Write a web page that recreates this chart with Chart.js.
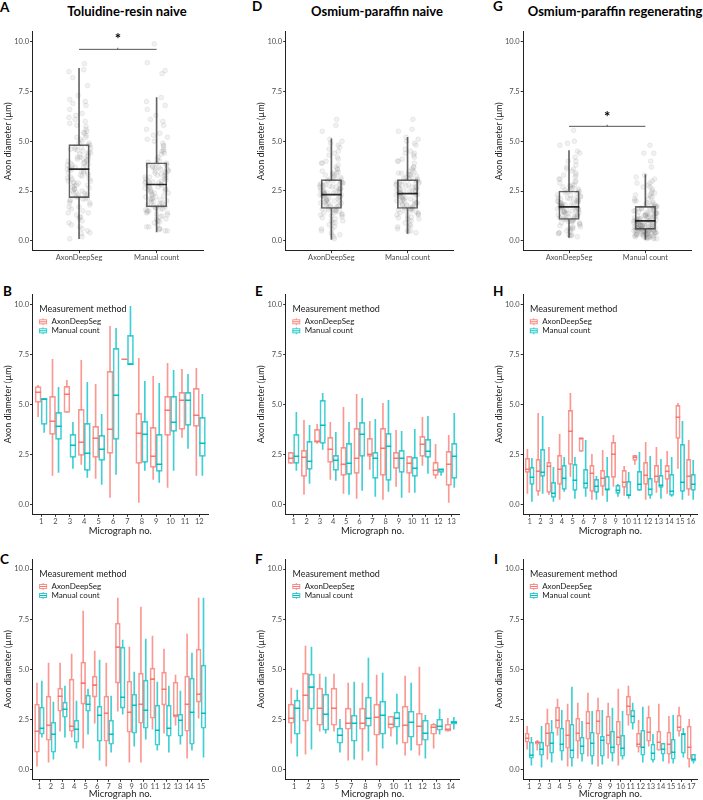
<!DOCTYPE html>
<html lang="en">
<head>
<meta charset="UTF-8">
<script src="https://cdn.jsdelivr.net/npm/chart.js"></script>
<title>Axon diameter - AxonDeepSeg vs manual count</title>
<style>
  body { margin: 0; background: #fff; font-family: Lato, sans-serif; }
  #fig { position: relative; width: 703px; height: 800px; overflow: hidden; }
  #fig canvas { position: absolute; }
  .letter { position: absolute; font-weight: bold; font-size: 13.5px; line-height: 1; color: #000; }
  .ptitle { position: absolute; font-weight: bold; font-size: 13px; line-height: 1; color: #000; transform: translateX(-50%); white-space: nowrap; }
</style>
</head>
<body>
<div id="fig">
  <div class="letter" style="left:0px;top:1px">A</div>
  <div class="letter" style="left:252px;top:0px">D</div>
  <div class="letter" style="left:493px;top:0px">G</div>
  <div class="letter" style="left:3px;top:285px">B</div>
  <div class="letter" style="left:255px;top:285px">E</div>
  <div class="letter" style="left:493px;top:285px">H</div>
  <div class="letter" style="left:0px;top:553px">C</div>
  <div class="letter" style="left:255px;top:553px">F</div>
  <div class="letter" style="left:494px;top:553px">I</div>
  <div class="ptitle" style="left:127px;top:5px">Toluidine-resin naive</div>
  <div class="ptitle" style="left:377px;top:5px">Osmium-paraffin naive</div>
  <div class="ptitle" style="left:615px;top:5px">Osmium-paraffin regenerating</div>
</div>
<script>
var groups = ['AxonDeepSeg', 'Manual count'];
var yTicks = [0, 2.5, 5, 7.5, 10];
var red = '248,118,109';
var teal = '0,191,196';

// top row: individual axon diameters (um)
var aAds = [3.6,2.1,4.9,1.3,5.6,3.0,4.2,0.5,2.7,6.4,3.9,1.8,4.6,2.4,7.3,3.3,0.9,5.1,4.0,2.9,8.6,1.6,3.5,4.4,2.2,6.0,3.8,1.1,4.8,2.6,5.3,3.1,0.2,4.1,7.8,2.0,3.7,5.9,1.5,4.5,2.8,6.8,3.4,0.7,4.3,2.5,5.0,3.2,1.9,4.7,8.9,2.3,3.85,6.2,1.2,4.05,2.95,5.45,3.55,0.35,4.65,2.45,7.0,3.15,1.7,4.25,2.75,5.75,3.65,1.0,4.55,2.15,6.6,3.45,0.1,4.15,2.65,5.2,3.75,1.4,4.35,2.35,8.2,3.25,2.05,4.8,6.1,3.95,
  2.9,4.4,1.7,3.3,5.5,2.4,3.9,0.8,4.7,3.0,6.3,2.1,3.6,4.9,1.4,2.6,5.2,3.8,0.6,4.2,2.8,7.1,3.5,1.9,4.5,3.1,5.8,2.3,4.0,1.2,3.4,6.9,2.5,4.6,0.4,3.7,5.4,2.2,4.1,8.5];
var aMan = [2.8,1.6,3.9,0.9,4.5,2.2,3.3,0.5,2.5,5.4,3.0,1.3,3.7,1.9,6.3,2.6,0.7,4.2,3.1,2.0,7.2,1.5,2.9,3.5,1.75,4.9,3.2,1.1,3.85,2.3,4.6,2.7,0.6,3.4,6.8,1.8,2.85,5.1,1.2,3.6,2.4,5.8,2.95,0.8,3.45,2.1,4.0,2.55,1.4,3.75,8.4,1.65,3.05,5.6,1.0,3.25,2.45,4.35,2.75,0.55,3.55,1.95,6.0,2.65,1.35,3.15,2.35,4.75,2.9,0.95,3.65,1.7,8.95,3.35,1.45,2.05,3.8,9.9,2.25,1.55,4.1,8.55,2.6,1.85,3.95,5.2,2.15,1.25,
  2.2,3.3,1.4,2.7,4.4,1.9,3.0,0.7,3.7,2.4,5.3,1.6,2.9,3.9,1.1,2.1,4.8,3.2,0.6,3.5,2.5,6.6,2.8,1.5,3.6,2.0,5.0,1.8,3.1,1.0,2.6,6.1,1.75,3.8,0.5,2.95,4.5,1.65,3.4,7.0];
var dAds = [2.3,1.5,3.1,0.8,3.8,1.9,2.7,0.3,2.1,4.4,2.5,1.2,3.0,1.7,4.9,2.2,0.5,3.4,2.6,1.8,5.8,1.4,2.4,2.9,1.65,3.6,2.8,1.0,3.2,2.0,4.1,2.35,0.1,2.75,4.7,1.6,2.45,3.5,1.1,2.95,2.15,4.5,2.55,0.6,2.85,1.95,3.3,2.25,1.35,3.05,6.1,1.75,2.65,3.9,0.9,2.5,1.85,3.7,2.4,0.2,2.9,1.55,4.2,2.3,1.25,2.6,2.05,3.45,2.2,0.7,5.1,1.45,5.5,2.7,1.15,3.15,1.9,4.6,2.1,1.3,3.35,2.0,2.8,
  2.0,2.8,1.3,2.4,3.4,1.7,2.6,0.6,3.0,2.2,4.0,1.5,2.5,3.2,1.0,1.9,3.6,2.7,0.4,2.9,2.1,4.8,2.35,1.4,3.1,1.8,3.9,1.6,2.55,0.9,2.3,4.3,1.75,2.85,0.3,2.45,3.3,1.55,2.75,5.0];
var dMan = [2.4,1.6,3.1,0.9,3.9,2.0,2.8,0.4,2.2,4.5,2.6,1.3,3.0,1.7,5.0,2.3,0.6,3.5,2.7,1.8,5.6,1.4,2.5,2.95,1.65,3.7,2.85,1.1,3.25,2.05,4.2,2.35,0.5,2.75,4.8,1.55,2.45,3.4,1.2,3.05,2.15,4.4,2.55,0.7,2.9,1.95,3.3,2.25,1.35,3.15,6.1,1.75,2.65,4.0,1.0,2.5,1.85,3.6,2.4,0.8,2.9,1.5,4.3,2.3,1.25,2.6,2.1,3.45,2.2,0.75,5.2,1.45,5.5,2.7,1.15,3.2,1.9,4.6,2.0,1.3,3.35,1.9,2.8,
  2.1,2.9,1.4,2.5,3.5,1.8,2.7,0.7,3.1,2.3,4.1,1.6,2.6,3.3,1.1,2.0,3.7,2.8,0.5,3.0,2.2,4.9,2.4,1.5,3.2,1.9,4.0,1.7,2.65,1.0,2.35,4.4,1.8,2.95,0.45,2.5,3.4,1.6,2.85,5.1];
var gAds = [1.7,1.0,2.5,0.5,3.0,1.3,2.1,0.2,1.5,3.5,1.9,0.8,2.4,1.2,4.0,1.6,0.4,2.7,2.0,1.1,5.55,0.9,1.8,2.2,1.05,3.2,2.3,0.6,2.6,1.4,3.8,1.75,0.3,2.15,4.5,1.15,1.85,2.9,0.7,2.45,1.55,3.4,1.95,0.45,2.35,1.25,2.8,1.65,0.85,2.55,5.0,1.35,2.05,3.1,0.55,1.9,1.45,3.6,1.8,0.25,2.25,1.1,4.2,1.6,0.95,2.0,1.5,3.3,1.7,0.65,4.9,1.2,4.8,2.1,0.75,2.65,1.4,3.7,1.55,0.35,2.75,1.3,1.85,
  1.5,2.1,0.9,1.8,2.8,1.2,1.95,0.4,2.3,1.6,3.3,1.05,1.75,2.6,0.7,1.35,2.95,2.0,0.3,2.2,1.45,4.0,1.7,0.95,2.45,1.25,3.1,1.1,1.85,0.6,1.55,3.6,1.3,2.15,0.25,1.65,2.7,1.0,1.9,4.4];
var gMan = [1.0,0.5,1.7,0.3,2.2,0.7,1.3,0.1,0.8,2.8,1.1,0.4,1.6,0.6,3.3,0.9,0.2,1.9,1.2,0.55,4.8,0.45,1.05,1.4,0.6,2.4,1.5,0.35,1.8,0.75,3.0,0.95,0.15,1.25,4.4,0.65,1.0,2.0,0.25,1.45,0.85,2.6,1.15,0.1,1.55,0.7,2.1,0.9,0.4,1.65,4.0,0.5,1.35,2.3,0.3,1.1,0.8,2.9,0.95,0.2,1.75,0.6,3.7,1.0,0.45,1.2,0.75,2.5,0.85,0.15,4.4,0.55,3.2,1.3,0.35,1.6,0.65,2.7,0.9,0.25,1.85,0.5,1.05,0.7,0.3,1.4,0.6,2.2,0.8,0.4,1.5,0.55,1.95,0.65,0.2,1.25,0.45,1.7,0.75,0.35,
  0.9,1.3,0.4,1.1,1.9,0.6,1.2,0.2,1.5,0.8,2.3,0.5,1.0,1.7,0.3,0.7,2.0,1.4,0.15,1.6,0.85,2.9,1.05,0.45,1.55,0.65,2.4,0.55,1.15,0.25,0.95,2.7,0.6,1.35,0.1,0.75,1.8,0.5,1.25,3.1,0.35,0.8,1.45,0.4,0.9,1.65,0.3,0.7,1.0,0.55,1.2,0.45,0.6,2.1,0.35,0.85,1.1,0.5,0.65,1.35];
var jitter = [-0.12,0.05,0.13,-0.03,0.09,-0.14,0.01,0.11,-0.08,0.04,-0.11,0.14,-0.05,0.07,-0.01,0.12,-0.13,0.02,0.1,-0.07,0.06,-0.1,0.03,0.15,-0.04,0.08,-0.15,0.0,0.12,-0.06,0.09,-0.09,0.04,-0.02,0.11,-0.12,0.06];

// box stats per group: [lower whisker, q1, median, q3, upper whisker]
var aBox = [[0.1,2.17,3.6,4.83,8.67],[0.45,1.7,2.83,3.92,7.2]];
var dBox = [[0.07,1.62,2.32,3.07,5.12],[0.37,1.62,2.37,3.07,5.2]];
var gBox = [[0.17,1.07,1.7,2.5,4.53],[0.07,0.57,1.0,1.73,3.33]];
var aSig = 9.62, aStar = 10.12;
var gSig = 5.75, gStar = 6.23;

// per micrograph box stats: [lower whisker, q1, median, q3, upper whisker]
var bLabels = ['1','2','3','4','5','6','7','8','9','10','11','12'];
var bAds = [[4.38,5.1,5.6,5.88,5.95],[1.45,3.5,4.15,5.4,7.25],[4.6,4.6,5.5,5.9,6.2],[2.0,2.45,3.1,4.75,7.2],[1.3,2.35,3.3,3.9,6.0],[0.35,2.55,3.75,6.65,8.9],[7.25,7.25,7.25,7.25,7.25],[0.1,2.05,3.55,4.55,7.3],[1.25,1.85,2.4,3.85,6.4],[0.85,3.45,4.7,5.4,7.05],[3.35,3.75,5.2,5.6,6.75],[1.45,3.9,4.45,5.8,6.8]];
var bMan = [[3.6,4.0,5.25,5.3,5.3],[1.6,3.25,3.9,4.6,5.85],[1.8,2.35,2.95,3.5,4.1],[1.35,1.7,2.55,4.05,6.1],[1.0,2.2,2.75,3.45,4.5],[1.5,3.25,5.45,7.8,8.8],[7.0,7.0,7.0,8.45,9.9],[1.7,2.1,3.5,4.15,6.15],[1.1,1.65,2.0,3.5,6.05],[1.7,3.65,4.1,5.4,6.7],[2.8,3.95,5.2,5.6,6.5],[1.45,2.4,3.05,4.35,5.5]];

var cLabels = ['1','2','3','4','5','6','7','8','9','10','11','12','13','14','15'];
var cAds = [[0.15,0.85,1.9,3.25,4.3],[0.35,1.45,2.2,3.65,5.3],[1.9,2.9,3.65,4.05,5.3],[1.6,1.9,2.15,4.5,5.75],[1.05,3.25,4.3,5.35,7.9],[2.3,3.6,4.2,4.65,5.9],[0.15,1.4,2.8,3.65,5.3],[2.9,4.3,6.1,7.3,8.55],[0.35,1.85,2.85,4.4,6.1],[0.35,2.3,3.25,4.8,8.1],[2.0,2.55,4.5,5.05,6.65],[1.8,3.2,4.0,4.85,6.0],[2.2,2.6,2.7,4.35,4.7],[0.55,1.9,3.25,4.65,6.75],[2.55,3.35,3.75,6.0,8.55]];
var cMan = [[1.6,1.75,2.05,3.1,4.4],[0.5,0.85,1.75,2.35,3.35],[1.6,2.6,3.0,3.35,4.15],[1.05,1.35,2.0,2.45,3.4],[1.75,2.9,3.25,3.7,4.0],[0.45,1.4,2.7,3.15,5.45],[0.85,1.25,1.75,2.45,3.65],[2.75,3.05,3.6,6.1,6.45],[1.15,1.8,3.2,3.75,4.85],[1.5,2.05,2.95,4.45,6.5],[0.95,1.2,1.95,3.2,4.35],[0.85,1.65,2.05,3.2,4.15],[1.25,1.65,2.45,2.75,3.9],[0.95,1.25,2.85,4.55,5.8],[0.6,2.05,2.8,5.2,8.55]];

var eLabels = ['1','2','3','4','5','6','7','8','9','10','11','12','13'];
var eAds = [[2.05,2.05,2.3,2.6,2.6],[0.5,1.4,2.35,2.7,4.2],[3.05,3.1,3.15,3.75,4.0],[1.25,2.1,2.75,3.35,4.1],[0.55,1.45,2.0,2.85,4.85],[0.3,1.55,2.3,3.8,5.5],[1.75,2.4,2.5,3.3,4.15],[0.25,1.45,2.8,3.8,5.05],[0.9,1.8,2.3,2.6,3.7],[0.6,1.55,2.05,2.4,2.4],[1.95,2.4,3.0,3.4,4.35],[1.3,1.45,1.7,2.1,3.0],[0.1,0.95,2.0,2.65,3.45]];
var eMan = [[1.7,2.05,2.4,3.5,4.6],[1.05,1.75,2.15,3.15,3.95],[2.75,3.05,3.95,5.2,5.55],[1.2,1.7,2.2,2.45,3.6],[0.5,1.5,2.05,3.05,4.1],[0.7,2.4,3.5,4.1,5.3],[0.4,1.3,2.3,2.6,4.25],[0.65,1.2,2.9,3.55,5.2],[0.35,1.6,2.3,2.7,3.65],[0.6,1.4,1.8,2.35,3.75],[1.55,2.35,2.65,3.25,4.4],[1.45,1.6,1.75,1.75,1.75],[0.85,1.3,2.4,3.05,4.55]];

var fLabels = ['1','2','3','5','7','8','9','10','11','12','13','14'];
var fAds = [[1.3,2.3,2.55,3.25,4.05],[0.75,2.4,3.7,4.8,6.15],[1.9,2.2,3.05,4.05,4.75],[1.9,2.2,3.05,4.05,4.75],[0.45,2.0,2.3,3.05,4.3],[0.45,2.0,2.3,3.05,4.3],[0.2,1.7,2.6,3.25,4.7],[1.65,2.05,2.25,2.65,2.65],[0.7,1.3,2.2,3.15,4.65],[0.7,1.2,2.15,2.8,5.1],[1.05,1.75,2.1,2.25,2.3],[1.9,1.9,2.0,2.25,2.55]];
var fMan = [[0.65,1.75,3.05,3.45,3.95],[1.0,3.0,4.1,4.75,6.1],[1.8,1.95,2.75,3.75,4.6],[0.85,1.3,1.7,2.05,2.5],[0.5,1.4,2.3,2.7,4.35],[0.9,2.15,2.55,3.6,5.55],[1.05,1.75,2.7,3.4,4.8],[1.25,2.1,2.55,2.85,3.75],[0.95,1.6,2.35,2.9,4.3],[0.55,1.45,1.8,2.45,2.7],[1.75,1.95,2.15,2.5,3.0],[2.0,2.25,2.35,2.4,2.6]];

var hLabels = ['1','2','3','4','5','6','7','8','9','10','11','12','13','14','15','16'];
var hAds = [[0.55,1.6,1.75,2.3,2.75],[0.45,0.65,1.65,2.25,4.55],[0.5,0.6,1.9,2.1,2.85],[0.25,1.0,1.75,2.45,3.5],[1.4,2.0,3.65,4.7,5.55],[2.65,2.65,3.3,3.3,3.3],[0.25,0.65,1.55,1.95,2.5],[0.45,0.9,1.3,1.7,2.7],[0.9,1.35,2.5,3.1,3.45],[0.45,0.85,1.1,1.7,1.9],[2.0,2.2,2.35,2.45,2.45],[0.25,1.0,1.45,2.1,3.1],[0.6,1.1,1.4,1.95,2.85],[0.55,1.25,1.65,1.95,2.65],[1.8,3.3,4.35,4.95,5.05],[0.45,0.75,1.4,2.25,3.2]];
var hMan = [[0.15,1.0,1.35,1.85,2.3],[0.55,1.4,1.6,2.75,4.4],[0.15,0.35,0.55,1.1,1.85],[0.65,0.75,1.3,1.95,2.35],[0.3,0.7,1.2,2.0,2.35],[0.4,0.8,1.05,1.75,3.2],[0.25,0.6,0.9,1.25,1.4],[0.15,0.7,0.75,1.4,2.35],[0.4,0.55,0.7,0.95,1.0],[0.3,0.45,0.45,1.15,1.6],[0.7,0.7,1.0,1.65,2.6],[0.3,0.45,0.75,1.3,2.4],[0.3,0.85,0.95,1.45,2.25],[0.4,0.45,0.65,1.5,2.35],[0.25,0.65,1.1,3.0,4.15],[0.25,0.7,1.0,1.5,2.2]];

var iLabels = ['1','2','3','4','5','6','7','8','9','10','11','12','13','14','15','16','17'];
var iAds = [[1.0,1.35,1.55,1.8,2.15],[0.95,1.25,1.35,1.4,1.45],[0.5,1.15,1.8,2.3,3.0],[1.7,2.05,2.45,3.1,3.5],[0.15,1.05,1.7,2.45,3.25],[0.55,1.4,1.8,2.55,3.3],[0.65,1.5,2.3,2.9,3.8],[0.15,1.75,2.4,2.95,3.55],[0.55,1.25,1.7,2.65,3.3],[0.2,1.2,1.6,2.4,4.0],[2.2,2.7,3.15,3.65,4.15],[0.85,1.1,1.25,1.8,2.45],[1.15,1.4,1.85,2.6,3.15],[0.95,0.95,1.35,1.9,3.25],[0.3,0.75,1.25,1.85,2.65],[1.65,1.9,2.1,2.7,3.1],[0.1,0.5,1.1,2.15,2.5]];
var iMan = [[0.2,0.55,0.7,1.35,1.6],[0.1,0.7,1.0,1.35,2.15],[0.35,0.8,1.3,1.85,2.45],[0.45,0.9,1.25,2.05,2.95],[0.15,0.55,0.95,2.25,4.1],[0.4,0.75,1.15,1.6,2.4],[0.25,0.65,1.3,1.85,2.9],[0.25,0.65,1.45,1.65,2.95],[0.4,0.8,1.1,1.9,3.05],[0.5,0.65,1.05,1.7,2.9],[2.0,2.3,2.65,2.95,3.3],[0.35,0.7,1.1,1.95,3.1],[0.35,0.45,0.8,1.25,1.75],[0.4,0.75,1.0,1.3,1.3],[0.3,0.5,0.85,1.5,2.7],[0.6,0.8,1.75,1.8,2.05],[0.3,0.4,0.5,0.75,0.75]];

// layout of the 3x3 grid (canvas boxes and plot areas, px)
var cols = [
  { cl: 0, cw: 215, pl: 32.5, pr: 208, yt: 8.3 },
  { cl: 235, cw: 230, pl: 285.7, pr: 460, yt: 260.7 },
  { cl: 470, cw: 233, pl: 523.2, pr: 698, yt: 499 }
];
var rows = [
  { ct: 20, ch: 248, pt: 30.7, pb: 250.7, xTitle: false },
  { ct: 285, ch: 252, pt: 294.3, pb: 514.3, xTitle: true },
  { ct: 550, ch: 250, pt: 559, pb: 779.3, xTitle: true }
];

var fontFam = 'Lato, "Open Sans", sans-serif';

function rgba(c, a) { return 'rgba(' + c + ',' + a + ')'; }

function boxSets(stats, offset, colour, medColour, bw, medWidth) {
  var seg = function (k1, k2) {
    return stats.map(function (s, i) { return { x: i + 1 + offset, y: [s[k1], s[k2]] }; });
  };
  return [
    { type: 'bar', data: seg(1, 3), backgroundColor: 'rgba(0,0,0,0)', borderColor: colour,
      borderWidth: 1, borderSkipped: false, barThickness: bw, grouped: false, order: 2 },
    { type: 'bar', data: seg(0, 1), backgroundColor: colour, borderWidth: 0,
      barThickness: 1, grouped: false, order: 3 },
    { type: 'bar', data: seg(3, 4), backgroundColor: colour, borderWidth: 0,
      barThickness: 1, grouped: false, order: 3 },
    { type: 'scatter', data: stats.map(function (s, i) { return { x: i + 1 + offset, y: s[2] }; }),
      pointStyle: 'line', pointRadius: bw / 2, borderColor: medColour, borderWidth: medWidth, order: 1 }
  ];
}

function legendPlugin() {
  return {
    id: 'methodLegend',
    afterDraw: function (chart) {
      var a = chart.chartArea, ctx = chart.ctx;
      ctx.save();
      ctx.textBaseline = 'middle';
      ctx.textAlign = 'left';
      ctx.fillStyle = '#1a1a1a';
      ctx.font = '9px ' + fontFam;
      ctx.fillText('Measurement method', a.left + 6.8, a.top + 14.7);
      ctx.font = '8px ' + fontFam;
      [red, teal].forEach(function (c, k) {
        var y = a.top + 27.5 + 9 * k, x = a.left + 6.6;
        ctx.strokeStyle = rgba(c, 0.8);
        ctx.lineWidth = 1;
        ctx.beginPath();
        ctx.moveTo(x + 4, y - 3.5); ctx.lineTo(x + 4, y - 2);
        ctx.moveTo(x + 4, y + 2); ctx.lineTo(x + 4, y + 3.5);
        ctx.stroke();
        ctx.strokeRect(x + 0.5, y - 2, 7, 4);
        ctx.strokeStyle = rgba(c, 1);
        ctx.beginPath(); ctx.moveTo(x + 0.5, y); ctx.lineTo(x + 7.5, y); ctx.stroke();
        ctx.fillStyle = '#1a1a1a';
        ctx.fillText(groups[k], a.left + 19, y);
      });
      ctx.restore();
    }
  };
}

function starPlugin(v) {
  return {
    id: 'sigStar',
    afterDatasetsDraw: function (chart) {
      var ctx = chart.ctx;
      ctx.save();
      ctx.fillStyle = '#000';
      ctx.font = 'bold 15px ' + fontFam;
      ctx.textAlign = 'center';
      ctx.textBaseline = 'alphabetic';
      ctx.fillText('*', chart.scales.x.getPixelForValue(1.5), chart.scales.y.getPixelForValue(v) + 5);
      ctx.restore();
    }
  };
}

function makePanel(colIdx, rowIdx, labels, datasets, plugins) {
  var c = cols[colIdx], r = rows[rowIdx];
  var cv = document.createElement('canvas');
  cv.width = c.cw; cv.height = r.ch;
  cv.style.left = c.cl + 'px'; cv.style.top = r.ct + 'px';
  cv.style.width = c.cw + 'px'; cv.style.height = r.ch + 'px';
  document.getElementById('fig').appendChild(cv);
  var axisCol = '#222';
  var tickFont = { family: fontFam, size: 7.5 };
  var titleFont = { family: fontFam, size: 9 };
  new Chart(cv.getContext('2d'), {
    type: 'bar',
    data: { datasets: datasets },
    options: {
      responsive: false,
      animation: false,
      events: [],
      layout: { padding: { left: 0, top: r.pt - r.ct, right: c.cl + c.cw - c.pr, bottom: 0 } },
      plugins: { legend: { display: false }, tooltip: { enabled: false } },
      scales: {
        x: {
          type: 'linear', min: 0.4, max: labels.length + 0.6, offset: false,
          afterBuildTicks: function (s) { s.ticks = labels.map(function (l, i) { return { value: i + 1 }; }); },
          afterFit: function (s) {
            s.height = r.ct + r.ch - r.pb;
            s.paddingLeft = 0; s.paddingRight = 0;
          },
          ticks: { autoSkip: false, maxRotation: 0, padding: 0, color: '#4d4d4d', font: tickFont,
            callback: function (v, i) { return labels[i]; } },
          grid: { offset: false, drawOnChartArea: false, tickLength: 2.5, color: '#333' },
          border: { color: axisCol, width: 1 },
          title: { display: r.xTitle, text: 'Micrograph no.', color: '#1a1a1a',
            font: { family: fontFam, size: 9.5 }, padding: { top: 0, bottom: 0 } }
        },
        y: {
          type: 'linear', min: -0.5, max: 10.5,
          afterBuildTicks: function (s) { s.ticks = yTicks.map(function (v) { return { value: v }; }); },
          afterFit: function (s) {
            s.width = c.pl - c.cl;
            s.paddingTop = 0; s.paddingBottom = 0;
          },
          ticks: { padding: 1, color: '#4d4d4d', font: tickFont,
            callback: function (v) { return v.toFixed(1); } },
          grid: { drawOnChartArea: false, tickLength: 2.5, color: '#333' },
          border: { color: axisCol, width: 1 },
          title: { display: true, text: 'Axon diameter (\u00b5m)', color: '#1a1a1a', font: titleFont,
            padding: { top: c.yt - c.cl - 5.4, bottom: 0 } }
        }
      }
    },
    plugins: plugins
  });
}

function topPanel(colIdx, ads, man, box, sig, star) {
  var c = cols[colIdx];
  var unit = (c.pr - c.pl) / 2.2;
  var bw = 0.257 * unit;
  var jit = function (vals, pos) {
    return vals.map(function (v, i) { return { x: pos + jitter[i % jitter.length], y: v }; });
  };
  var pts = { pointRadius: 2.4, backgroundColor: 'rgba(130,130,130,0.11)',
    borderColor: 'rgba(100,100,100,0.14)', borderWidth: 0.7, order: 5 };
  var sets = [
    Object.assign({ type: 'scatter', data: jit(ads, 1) }, pts),
    Object.assign({ type: 'scatter', data: jit(man, 2) }, pts)
  ];
  sets = sets.concat(boxSets(box, 0, 'rgba(50,50,50,0.75)', 'rgba(20,20,20,0.9)', bw, 1.6));
  var plugins = [];
  if (sig !== null) {
    sets.push({ type: 'line', data: [{ x: 1, y: sig }, { x: 2, y: sig }], borderColor: '#555',
      borderWidth: 1, pointRadius: 0, order: 0 });
    sets.push({ type: 'line', data: [{ x: 1.5, y: sig }, { x: 1.5, y: sig + 0.08 }], borderColor: '#555',
      borderWidth: 1, pointRadius: 0, order: 0 });
    plugins.push(starPlugin(star));
  }
  makePanel(colIdx, 0, groups, sets, plugins);
}

function microPanel(colIdx, rowIdx, labels, ads, man) {
  var c = cols[colIdx];
  var unit = (c.pr - c.pl) / (labels.length + 0.2);
  var bw = 0.42 * unit;
  var sets = boxSets(ads, -0.21, rgba(red, 0.75), rgba(red, 1), bw, 1.6)
    .concat(boxSets(man, 0.21, rgba(teal, 0.75), rgba(teal, 1), bw, 1.6));
  makePanel(colIdx, rowIdx, labels, sets, [legendPlugin()]);
}

topPanel(0, aAds, aMan, aBox, aSig, aStar);
topPanel(1, dAds, dMan, dBox, null, null);
topPanel(2, gAds, gMan, gBox, gSig, gStar);
microPanel(0, 1, bLabels, bAds, bMan);
microPanel(1, 1, eLabels, eAds, eMan);
microPanel(2, 1, hLabels, hAds, hMan);
microPanel(0, 2, cLabels, cAds, cMan);
microPanel(1, 2, fLabels, fAds, fMan);
microPanel(2, 2, iLabels, iAds, iMan);
</script>
</body>
</html>
